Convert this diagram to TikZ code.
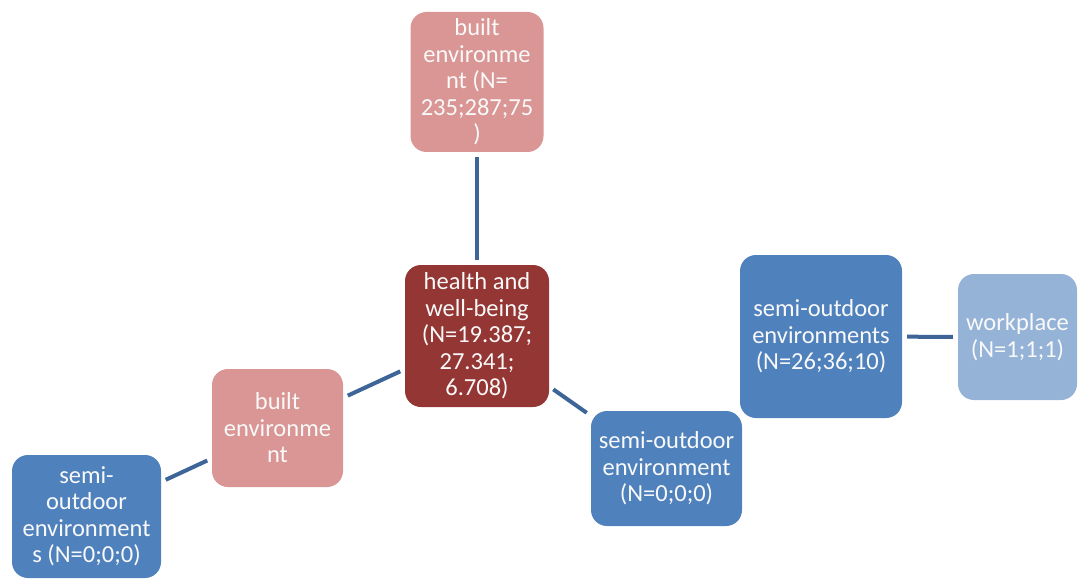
\documentclass[tikz,border=0pt]{standalone}
\usepackage{fontspec}
\setmainfont{Carlito}
\usepackage{xcolor}
\usepackage{tikz}
\usetikzlibrary{positioning,calc}

\definecolor{pinkfill}{HTML}{D99694}
\definecolor{redfill}{HTML}{943634}
\definecolor{bluefill}{HTML}{4F81BD}
\definecolor{lightfill}{HTML}{95B3D7}
\definecolor{linkcol}{HTML}{3D6598}

\begin{document}
\begin{tikzpicture}[x=1pt, y=-1pt,
    box/.style={rounded corners=16pt, inner sep=0pt, align=center,
        text=white!95!gray, font=\fontsize{24.5}{26.5}\selectfont},
    link/.style={linkcol, line width=4pt, shorten >=5pt, shorten <=5pt}]
    \useasboundingbox (0,0) rectangle (1083,580);

    % Centre node
    \node[box, fill=redfill, minimum width=144pt, minimum height=142pt] (health) at (477,336)
        {health and\\well-being\\(N=19.387;\\27.341;\\6.708)};

    % Branches
    \node[box, fill=pinkfill, minimum width=133pt, minimum height=140pt] (topenv) at (477,82)
        {built\\environme\\nt (N=\\235;287;75\\)};
    \node[box, fill=pinkfill, minimum width=131pt, minimum height=118pt] (builtenv) at (277.5,428)
        {built\\environme\\nt};
    \node[box, fill=bluefill, minimum width=149pt, minimum height=123pt] (semileft) at (86.5,516.5)
        {semi-\\outdoor\\environment\\s (N=0;0;0)};
    \node[box, fill=bluefill, minimum width=151pt, minimum height=115pt] (semimid) at (666.5,468.5)
        {semi-outdoor\\environment\\(N=0;0;0)};
    \node[box, fill=bluefill, minimum width=162pt, minimum height=163pt] (semiright) at (821,336.5)
        {semi-outdoor\\environments\\(N=26;36;10)};
    \node[box, fill=lightfill, minimum width=119pt, minimum height=126pt] (work) at (1017.5,337)
        {workplace\\(N=1;1;1)};

    % Connectors
    \draw[link] (health) -- (topenv);
    \draw[link] (health) -- (builtenv);
    \draw[link] (builtenv) -- (semileft);
    \draw[link] (health) -- (semimid);
    \draw[link] (semiright) -- (work);
\end{tikzpicture}
\end{document}
